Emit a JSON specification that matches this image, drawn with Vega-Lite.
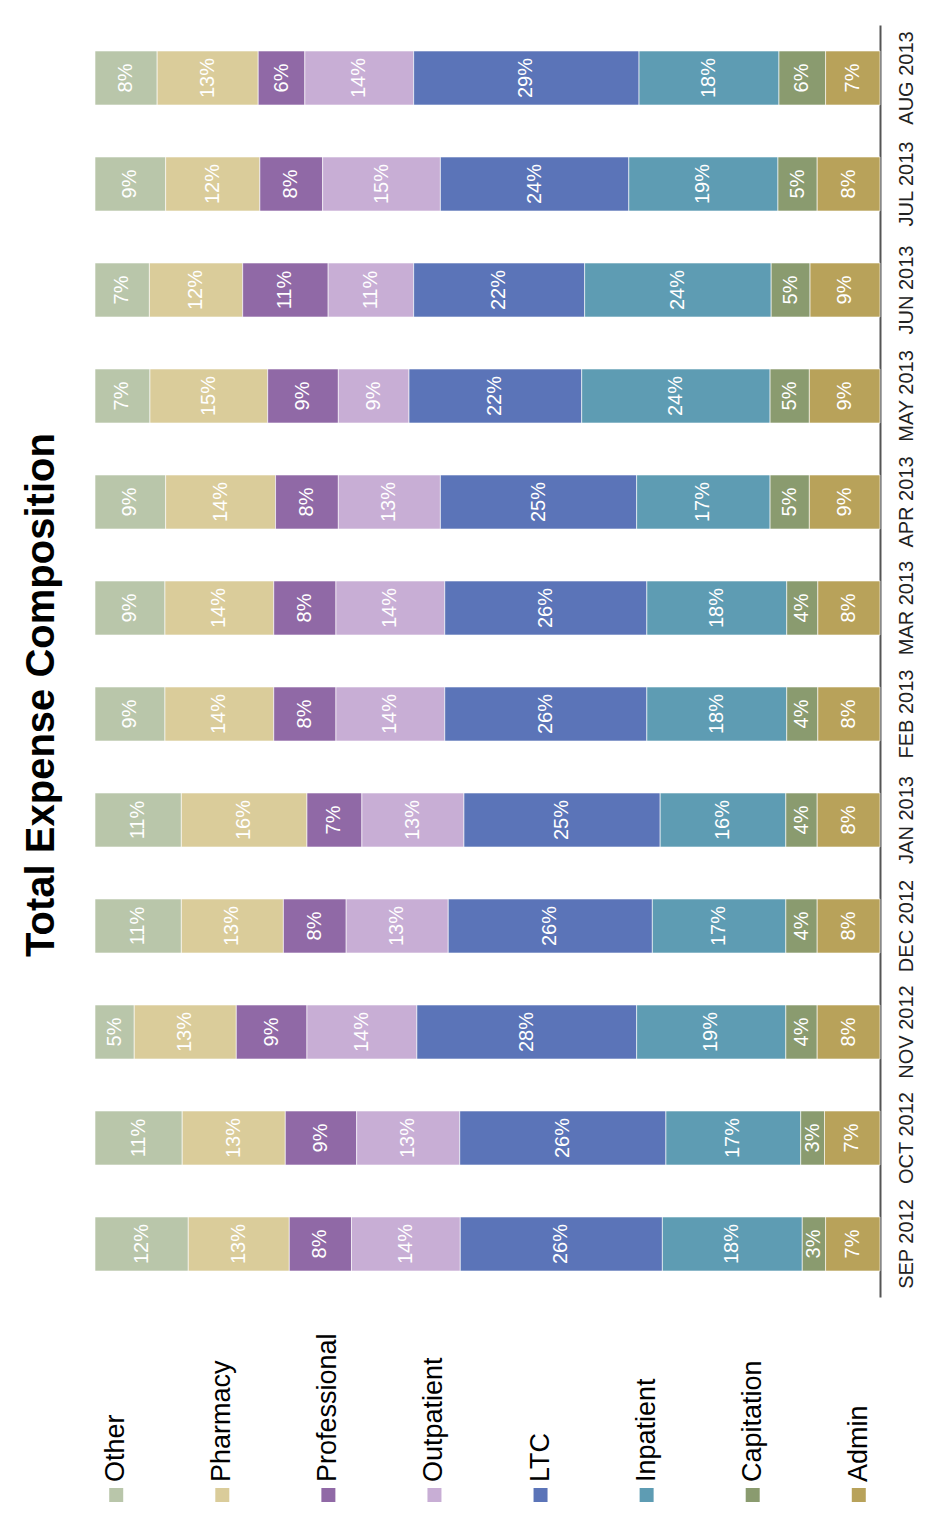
{
  "$schema": "https://vega.github.io/schema/vega-lite/v6.json",
  "padding": {"top": 25, "left": 21, "right": 5, "bottom": 5},
  "config": {"view": {"stroke": null}, "font": "Liberation Sans"},
  "datasets": {
    "cats": [
      {"category": "Other"}, {"category": "Pharmacy"}, {"category": "Professional"}, {"category": "Outpatient"},
      {"category": "LTC"}, {"category": "Inpatient"}, {"category": "Capitation"}, {"category": "Admin"}
    ],
    "costs": [
      {"month": "AUG 2013", "category": "Other", "share": 0.08},
      {"month": "AUG 2013", "category": "Pharmacy", "share": 0.13},
      {"month": "AUG 2013", "category": "Professional", "share": 0.06},
      {"month": "AUG 2013", "category": "Outpatient", "share": 0.14},
      {"month": "AUG 2013", "category": "LTC", "share": 0.29},
      {"month": "AUG 2013", "category": "Inpatient", "share": 0.18},
      {"month": "AUG 2013", "category": "Capitation", "share": 0.06},
      {"month": "AUG 2013", "category": "Admin", "share": 0.07},
      {"month": "JUL 2013", "category": "Other", "share": 0.09},
      {"month": "JUL 2013", "category": "Pharmacy", "share": 0.12},
      {"month": "JUL 2013", "category": "Professional", "share": 0.08},
      {"month": "JUL 2013", "category": "Outpatient", "share": 0.15},
      {"month": "JUL 2013", "category": "LTC", "share": 0.24},
      {"month": "JUL 2013", "category": "Inpatient", "share": 0.19},
      {"month": "JUL 2013", "category": "Capitation", "share": 0.05},
      {"month": "JUL 2013", "category": "Admin", "share": 0.08},
      {"month": "JUN 2013", "category": "Other", "share": 0.07},
      {"month": "JUN 2013", "category": "Pharmacy", "share": 0.12},
      {"month": "JUN 2013", "category": "Professional", "share": 0.11},
      {"month": "JUN 2013", "category": "Outpatient", "share": 0.11},
      {"month": "JUN 2013", "category": "LTC", "share": 0.22},
      {"month": "JUN 2013", "category": "Inpatient", "share": 0.24},
      {"month": "JUN 2013", "category": "Capitation", "share": 0.05},
      {"month": "JUN 2013", "category": "Admin", "share": 0.09},
      {"month": "MAY 2013", "category": "Other", "share": 0.07},
      {"month": "MAY 2013", "category": "Pharmacy", "share": 0.15},
      {"month": "MAY 2013", "category": "Professional", "share": 0.09},
      {"month": "MAY 2013", "category": "Outpatient", "share": 0.09},
      {"month": "MAY 2013", "category": "LTC", "share": 0.22},
      {"month": "MAY 2013", "category": "Inpatient", "share": 0.24},
      {"month": "MAY 2013", "category": "Capitation", "share": 0.05},
      {"month": "MAY 2013", "category": "Admin", "share": 0.09},
      {"month": "APR 2013", "category": "Other", "share": 0.09},
      {"month": "APR 2013", "category": "Pharmacy", "share": 0.14},
      {"month": "APR 2013", "category": "Professional", "share": 0.08},
      {"month": "APR 2013", "category": "Outpatient", "share": 0.13},
      {"month": "APR 2013", "category": "LTC", "share": 0.25},
      {"month": "APR 2013", "category": "Inpatient", "share": 0.17},
      {"month": "APR 2013", "category": "Capitation", "share": 0.05},
      {"month": "APR 2013", "category": "Admin", "share": 0.09},
      {"month": "MAR 2013", "category": "Other", "share": 0.09},
      {"month": "MAR 2013", "category": "Pharmacy", "share": 0.14},
      {"month": "MAR 2013", "category": "Professional", "share": 0.08},
      {"month": "MAR 2013", "category": "Outpatient", "share": 0.14},
      {"month": "MAR 2013", "category": "LTC", "share": 0.26},
      {"month": "MAR 2013", "category": "Inpatient", "share": 0.18},
      {"month": "MAR 2013", "category": "Capitation", "share": 0.04},
      {"month": "MAR 2013", "category": "Admin", "share": 0.08},
      {"month": "FEB 2013", "category": "Other", "share": 0.09},
      {"month": "FEB 2013", "category": "Pharmacy", "share": 0.14},
      {"month": "FEB 2013", "category": "Professional", "share": 0.08},
      {"month": "FEB 2013", "category": "Outpatient", "share": 0.14},
      {"month": "FEB 2013", "category": "LTC", "share": 0.26},
      {"month": "FEB 2013", "category": "Inpatient", "share": 0.18},
      {"month": "FEB 2013", "category": "Capitation", "share": 0.04},
      {"month": "FEB 2013", "category": "Admin", "share": 0.08},
      {"month": "JAN 2013", "category": "Other", "share": 0.11},
      {"month": "JAN 2013", "category": "Pharmacy", "share": 0.16},
      {"month": "JAN 2013", "category": "Professional", "share": 0.07},
      {"month": "JAN 2013", "category": "Outpatient", "share": 0.13},
      {"month": "JAN 2013", "category": "LTC", "share": 0.25},
      {"month": "JAN 2013", "category": "Inpatient", "share": 0.16},
      {"month": "JAN 2013", "category": "Capitation", "share": 0.04},
      {"month": "JAN 2013", "category": "Admin", "share": 0.08},
      {"month": "DEC 2012", "category": "Other", "share": 0.11},
      {"month": "DEC 2012", "category": "Pharmacy", "share": 0.13},
      {"month": "DEC 2012", "category": "Professional", "share": 0.08},
      {"month": "DEC 2012", "category": "Outpatient", "share": 0.13},
      {"month": "DEC 2012", "category": "LTC", "share": 0.26},
      {"month": "DEC 2012", "category": "Inpatient", "share": 0.17},
      {"month": "DEC 2012", "category": "Capitation", "share": 0.04},
      {"month": "DEC 2012", "category": "Admin", "share": 0.08},
      {"month": "NOV 2012", "category": "Other", "share": 0.05},
      {"month": "NOV 2012", "category": "Pharmacy", "share": 0.13},
      {"month": "NOV 2012", "category": "Professional", "share": 0.09},
      {"month": "NOV 2012", "category": "Outpatient", "share": 0.14},
      {"month": "NOV 2012", "category": "LTC", "share": 0.28},
      {"month": "NOV 2012", "category": "Inpatient", "share": 0.19},
      {"month": "NOV 2012", "category": "Capitation", "share": 0.04},
      {"month": "NOV 2012", "category": "Admin", "share": 0.08},
      {"month": "OCT 2012", "category": "Other", "share": 0.11},
      {"month": "OCT 2012", "category": "Pharmacy", "share": 0.13},
      {"month": "OCT 2012", "category": "Professional", "share": 0.09},
      {"month": "OCT 2012", "category": "Outpatient", "share": 0.13},
      {"month": "OCT 2012", "category": "LTC", "share": 0.26},
      {"month": "OCT 2012", "category": "Inpatient", "share": 0.17},
      {"month": "OCT 2012", "category": "Capitation", "share": 0.03},
      {"month": "OCT 2012", "category": "Admin", "share": 0.07},
      {"month": "SEP 2012", "category": "Other", "share": 0.12},
      {"month": "SEP 2012", "category": "Pharmacy", "share": 0.13},
      {"month": "SEP 2012", "category": "Professional", "share": 0.08},
      {"month": "SEP 2012", "category": "Outpatient", "share": 0.14},
      {"month": "SEP 2012", "category": "LTC", "share": 0.26},
      {"month": "SEP 2012", "category": "Inpatient", "share": 0.18},
      {"month": "SEP 2012", "category": "Capitation", "share": 0.03},
      {"month": "SEP 2012", "category": "Admin", "share": 0.07}
    ]
  },
  "spacing": 36,
  "vconcat": [
    {
      "width": 785,
      "height": 1272,
      "title": {
        "text": "Total Expense Composition",
        "orient": "left",
        "anchor": "middle",
        "fontSize": 40,
        "fontWeight": "bold",
        "font": "Liberation Sans",
        "color": "#000000",
        "offset": 33,
        "dx": -34
      },
      "data": {"name": "costs"},
      "transform": [
        {"stack": "share", "groupby": ["month"], "offset": "normalize", "as": ["lo", "hi"]},
        {"calculate": "(datum.lo + datum.hi) / 2", "as": "mid"}
      ],
      "encoding": {
        "y": {
          "field": "month", "type": "nominal", "sort": null,
          "scale": {"paddingInner": 0.49, "paddingOuter": 0.245},
          "axis": {
            "orient": "right", "title": null, "ticks": false, "tickSize": 0,
            "labelAngle": -90, "labelAlign": "center", "labelBaseline": "top",
            "labelPadding": 16, "labelFontSize": 20, "labelFont": "Liberation Sans",
            "labelColor": "#222222", "domainColor": "#555555", "domainWidth": 2,
            "labelOverlap": false
          }
        }
      },
      "layer": [
        {
          "mark": {"type": "bar", "stroke": "#ffffff", "strokeWidth": 1, "strokeOpacity": 0.6},
          "encoding": {
            "x": {"field": "lo", "type": "quantitative", "scale": {"domain": [0, 1]}, "axis": null},
            "x2": {"field": "hi"},
            "color": {
              "field": "category", "type": "nominal", "legend": null,
              "scale": {
                "domain": ["Other", "Pharmacy", "Professional", "Outpatient", "LTC", "Inpatient", "Capitation", "Admin"],
                "range": ["#b9c6aa", "#dacc9a", "#9069a6", "#c8aed5", "#5b74b8", "#5e9cb3", "#8a9b6f", "#b8a25a"]
              }
            }
          }
        },
        {
          "mark": {"type": "text", "angle": 270, "align": "center", "baseline": "middle", "fontSize": 20, "color": "#ffffff"},
          "encoding": {
            "x": {"field": "mid", "type": "quantitative"},
            "text": {"field": "share", "type": "quantitative", "format": ".0%"}
          }
        }
      ]
    },
    {
      "width": 785,
      "height": 40,
      "data": {"name": "cats"},
      "encoding": {
        "x": {"field": "category", "type": "nominal", "sort": null, "scale": {"type": "point", "padding": 0.2}, "axis": null},
        "color": {
          "field": "category", "type": "nominal", "legend": null,
          "scale": {
            "domain": ["Other", "Pharmacy", "Professional", "Outpatient", "LTC", "Inpatient", "Capitation", "Admin"],
            "range": ["#b9c6aa", "#dacc9a", "#9069a6", "#c8aed5", "#5b74b8", "#5e9cb3", "#8a9b6f", "#b8a25a"]
          }
        }
      },
      "layer": [
        {"mark": {"type": "point", "shape": "square", "filled": true, "size": 196, "opacity": 1}},
        {
          "mark": {"type": "text", "angle": 270, "align": "left", "baseline": "middle", "dx": 13, "fontSize": 27, "color": "#000000"},
          "encoding": {"text": {"field": "category"}, "color": {"value": "#000000"}}
        }
      ]
    }
  ]
}
